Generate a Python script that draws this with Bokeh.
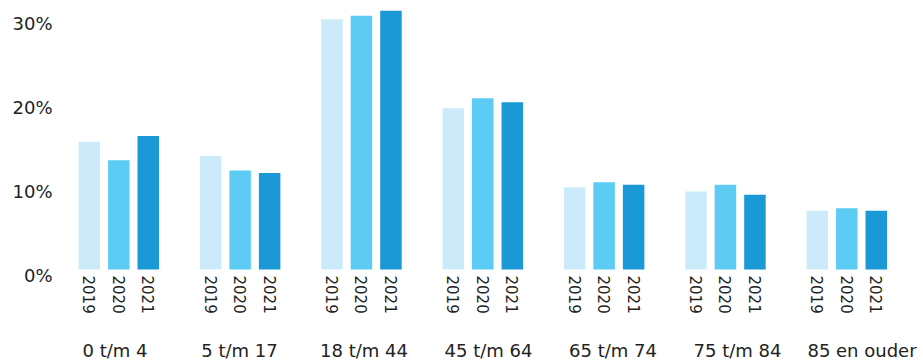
import math
from bokeh.plotting import figure
from bokeh.models import ColumnDataSource, Range1d, LinearAxis, FixedTicker
from bokeh.core.properties import value
from bokeh.embed import file_html
from bokeh.resources import INLINE

# ---- data ----
categories = ["0 t/m 4", "5 t/m 17", "18 t/m 44", "45 t/m 64", "65 t/m 74", "75 t/m 84", "85 en ouder"]
years = ["2019", "2020", "2021"]
v2019 = [15.2, 13.5, 29.8, 19.2, 9.8, 9.3, 7.0]
v2020 = [13.0, 11.8, 30.2, 20.4, 10.4, 10.1, 7.3]
v2021 = [15.9, 11.5, 30.8, 19.9, 10.1, 8.9, 7.0]
yticks = [0, 10, 20, 30]
ytick_labels = ["0%", "10%", "20%", "30%"]

# ---- style ----
colors = ["#CCEBFA", "#5DCCF5", "#1B98D6"]
FONT = "DejaVu Sans"
TXT = "#222222"
W, H = 923, 361
LEFT = 58
px_per_unit_y = 8.4          # pixels per 1 %
base_px = 269                # pixel row of 0 %
grp_px = 121.33              # pixels per group
grp0_px = 118.3              # canvas x of first group centre
bar_off = 29.5 / grp_px
bar_w = 21.5 / grp_px

y0 = -(H - base_px) / px_per_unit_y
y1 = base_px / px_per_unit_y
x0 = (LEFT - grp0_px) / grp_px
x1 = (W - grp0_px) / grp_px

p = figure(width=W, height=H, output_backend="svg", toolbar_location=None,
           x_range=Range1d(x0, x1), y_range=Range1d(y0, y1),
           x_axis_location=None, y_axis_location=None,
           min_border_left=LEFT, min_border_right=0, min_border_top=0, min_border_bottom=0)
p.outline_line_color = None
p.xgrid.visible = False
p.ygrid.visible = False
p.background_fill_color = "white"
p.border_fill_color = "white"

series = [v2019, v2020, v2021]
xs_all, yrs_all = [], []
for j, (vals, col) in enumerate(zip(series, colors)):
    xs = [i + (j - 1) * bar_off for i in range(len(categories))]
    src = ColumnDataSource(dict(x=xs, top=vals))
    p.vbar(x="x", top="top", bottom=0, width=bar_w, source=src,
           fill_color=col, line_color=None)
    xs_all += xs
    yrs_all += [years[j]] * len(categories)

# year labels under each bar, rotated to read top-to-bottom
yl = ColumnDataSource(dict(x=xs_all, y=[-6 / px_per_unit_y] * len(xs_all), t=yrs_all))
p.text(x="x", y="y", text="t", source=yl, angle=-math.pi / 2,
       text_align="left", text_baseline="middle",
       text_font=value(FONT), text_font_size="15px", text_color=TXT)

# category labels
lab_step = 124.5 / grp_px
lab_shift = (114.5 - grp0_px) / grp_px
cl = ColumnDataSource(dict(x=[lab_shift + i * lab_step for i in range(len(categories))],
                           y=[-(349.5 - base_px) / px_per_unit_y] * len(categories),
                           t=categories))
p.text(x="x", y="y", text="t", source=cl, text_align="center", text_baseline="middle",
       text_font=value(FONT), text_font_size="18px", text_color=TXT)

# y axis (labels drawn slightly below their ticks, as in the reference)
shift = 5.5 / px_per_unit_y
p.extra_y_ranges = {"lab": Range1d(y0 + shift, y1 + shift)}
ax = LinearAxis(y_range_name="lab", ticker=FixedTicker(ticks=yticks),
                major_label_overrides={t: l for t, l in zip(yticks, ytick_labels)})
ax.axis_line_color = None
ax.major_tick_line_color = None
ax.minor_tick_line_color = None
ax.major_tick_out = 0
ax.major_tick_in = 0
ax.major_label_standoff = 6
ax.major_label_text_font = FONT
ax.major_label_text_font_size = "18px"
ax.major_label_text_color = TXT
p.add_layout(ax, "left")

open("out.html", "w").write(file_html(p, INLINE))
